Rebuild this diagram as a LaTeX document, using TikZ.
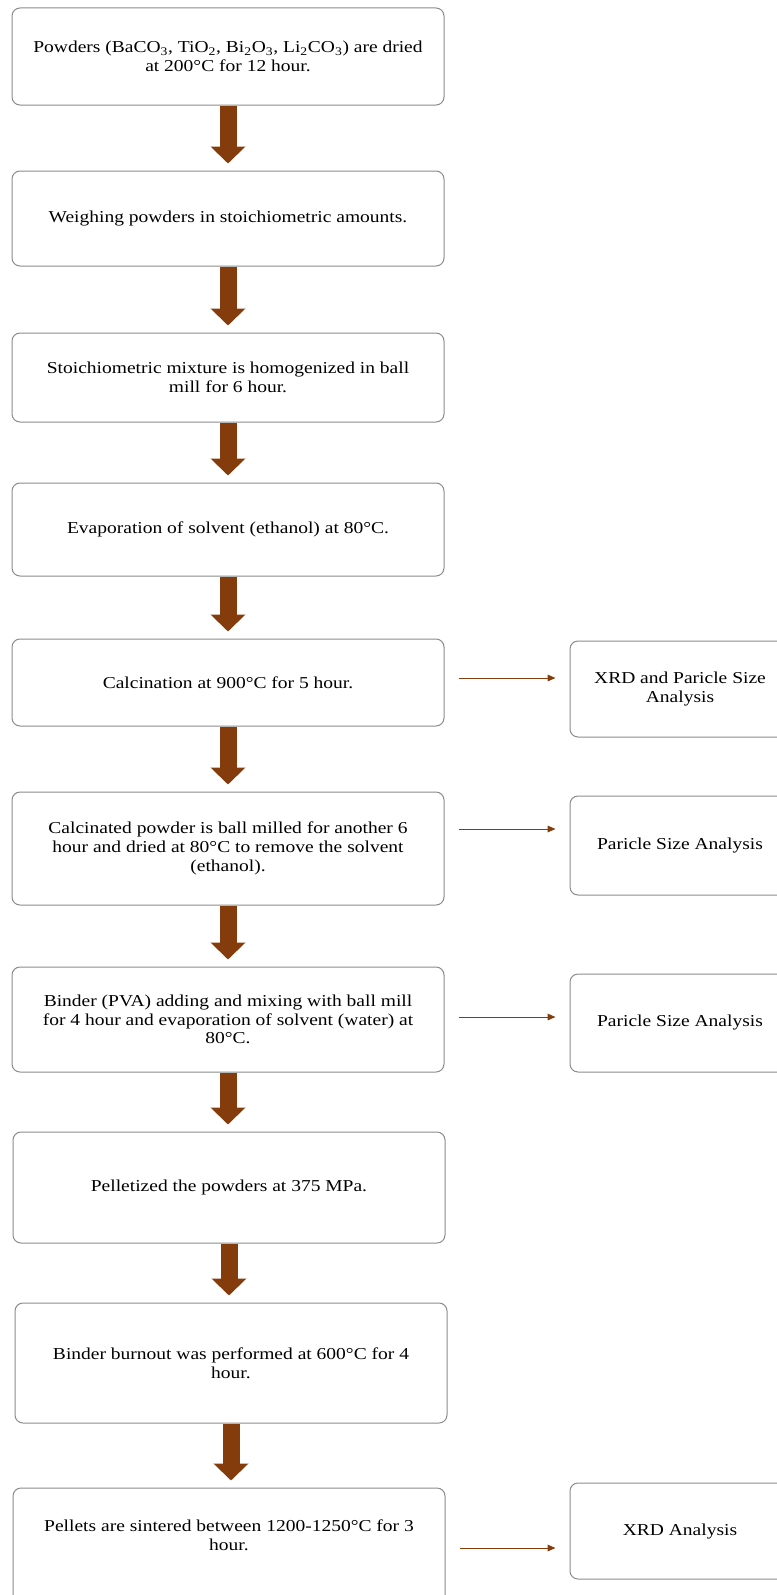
\documentclass[tikz,border=0pt]{standalone}
\usepackage{fontspec}
\setmainfont[FakeStretch=1.17]{Liberation Serif}
\usetikzlibrary{arrows.meta}
\definecolor{brownarr}{RGB}{132,60,12}
\definecolor{boxline}{RGB}{140,140,140}
\tikzset{
  x=0.75pt, y=-0.75pt,
  box/.style={draw=boxline, line width=0.75pt, rounded corners=6pt, align=center,
    font=\fontsize{12.5}{14}\selectfont, inner sep=0pt},
  mainbox/.style={box, minimum width=324pt},
  sidebox/.style={box, minimum width=165pt},
  bigarrow/.style={draw=brownarr, line width=12.75pt,
    -{Triangle[length=12.75pt,width=25.5pt]}, brownarr, shorten >=5.25pt},
  thinarrow/.style={draw=brownarr, line width=0.75pt,
    -{Triangle[length=6pt,width=5pt]}, shorten <=10.5pt, shorten >=10.5pt},
  txt/.style={align=center, font=\fontsize{12.5}{14}\selectfont, inner sep=0pt}
}
\begin{document}
\begin{tikzpicture}
\useasboundingbox (0,0) rectangle (777,1595);
\clip (0,0) rectangle (777,1595);
\fill[white] (0,0) rectangle (777,1595);

\node[mainbox, minimum height=72.75pt] (b1) at (228,56.5)
  {Powders (BaCO\textsubscript{3}, TiO\textsubscript{2}, Bi\textsubscript{2}O\textsubscript{3}, Li\textsubscript{2}CO\textsubscript{3}) are dried\\at 200°C for 12 hour.};
\node[mainbox, minimum height=71.25pt] (b2) at (228,218.5)
  {Weighing powders in stoichiometric amounts.};
\node[mainbox, minimum height=66.75pt] (b3) at (228,377.5)
  {Stoichiometric mixture is homogenized in ball\\mill for 6 hour.};
\node[mainbox, minimum height=69.75pt] (b4) at (228,529.5)
  {Evaporation of solvent (ethanol) at 80°C.};
\node[mainbox, minimum height=65.25pt] (b5) at (228,682.5)
  {Calcination at 900°C for 5 hour.};
\node[mainbox, minimum height=84.75pt] (b6) at (228,848.5)
  {Calcinated powder is ball milled for another 6\\hour and dried at 80°C to remove the solvent\\(ethanol).};
\node[mainbox, minimum height=78.75pt] (b7) at (228,1019.5)
  {Binder (PVA) adding and mixing with ball mill\\for 4 hour and evaporation of solvent (water) at\\80°C.};
\node[mainbox, minimum height=83.25pt] (b8) at (229,1187.5)
  {Pelletized the powders at 375 MPa.};
\node[mainbox, minimum height=90pt] (b9) at (231,1363)
  {Binder burnout was performed at 600°C for 4\\hour.};
\node[mainbox, minimum height=87.75pt] (b10) at (229,1546.5) {};
\node[txt] (t10) at (229,1535)
  {Pellets are sintered between 1200-1250°C for 3\\hour.};

\node[sidebox, minimum height=72pt] (r1) at (680,689)
  {XRD and Paricle Size\\Analysis};
\node[sidebox, minimum height=74.25pt] (r2) at (680,845.5)
  {Paricle Size Analysis};
\node[sidebox, minimum height=73.5pt] (r3) at (680,1023)
  {Paricle Size Analysis};
\node[sidebox, minimum height=72pt] (r4) at (680,1531)
  {XRD Analysis};

\foreach \a/\b in {b1/b2,b2/b3,b3/b4,b4/b5,b5/b6,b6/b7,b7/b8,b8/b9,b9/b10}
  \draw[bigarrow] (\a.south) -- (\a.south |- \b.north);

\draw[thinarrow] (b5.east |- 0,678) -- (r1.west |- 0,678);
\draw[thinarrow] (b6.east |- 0,829) -- (r2.west |- 0,829);
\draw[thinarrow] (b7.east |- 0,1017) -- (r3.west |- 0,1017);
\draw[thinarrow] (b10.east |- 0,1548) -- (r4.west |- 0,1548);
\end{tikzpicture}
\end{document}
